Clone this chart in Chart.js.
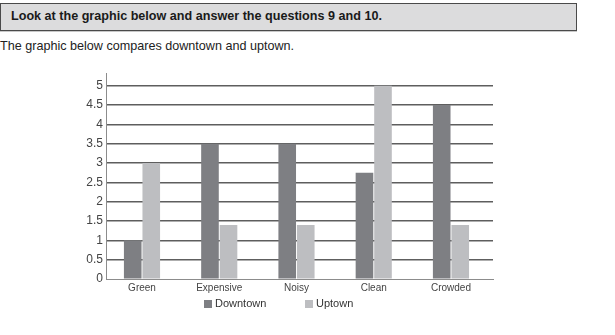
<!DOCTYPE html>
<html>
<head>
<meta charset="utf-8">
<script src="https://cdn.jsdelivr.net/npm/chart.js@4"></script>
<style>
  html, body { margin:0; padding:0; width:615px; height:335px; overflow:hidden; background:#fff; font-family:"Liberation Sans", Arial, sans-serif; }
  #hdr { position:absolute; left:0; top:3px; width:575px; height:26px; background:#dcdcdd; border:1.5px solid #4a4a4a; box-shadow:0 1px 0 #c8c8c8; }
  #hdr span { position:absolute; left:10px; top:5px; font-weight:bold; font-size:12.6px; color:#1a1a1a; }
  #sub { position:absolute; left:0; top:39px; font-size:12.6px; color:#222; }
  #wrap { position:absolute; left:0; top:60px; width:615px; height:240px; }
  #legend { position:absolute; top:296px; left:0; width:615px; height:14px; font-size:11px; color:#333; }
  .li { position:absolute; top:0; }
  .sw { position:absolute; top:4px; width:8px; height:8px; }
</style>
</head>
<body>
<div id="hdr"><span>Look at the graphic below and answer the questions 9 and 10.</span></div>
<div id="sub">The graphic below compares downtown and uptown.</div>
<div id="wrap"><canvas id="c"></canvas></div>
<div id="legend">
  <div class="sw" style="left:204px;background:#7e7f83"></div><div class="li" style="left:215px;top:1px">Downtown</div>
  <div class="sw" style="left:305px;background:#bdbec1"></div><div class="li" style="left:316px;top:1px">Uptown</div>
</div>
<script>
const categories = ["Green", "Expensive", "Noisy", "Clean", "Crowded"];
const downtown = [1, 3.5, 3.5, 2.75, 4.5];
const uptown = [3, 1.4, 1.4, 5, 1.4];
const yTickValues = [0, 0.5, 1, 1.5, 2, 2.5, 3, 3.5, 4, 4.5, 5];
const seriesNames = ["Downtown", "Uptown"];

const toPoints = (arr) => arr.map((v, i) => ({ x: i, y: v }));

new Chart(document.getElementById('c'), {
  type: 'bar',
  data: {
    datasets: [
      { label: seriesNames[0], data: toPoints(downtown), backgroundColor: '#7e7f83', borderWidth: 0 },
      { label: seriesNames[1], data: toPoints(uptown), backgroundColor: '#bdbec1', borderWidth: 0 }
    ]
  },
  options: {
    responsive: true,
    maintainAspectRatio: false,
    animation: false,
    layout: { padding: { left: 0, right: 122, top: 13, bottom: 0 } },
    datasets: { bar: { categoryPercentage: 0.48, barPercentage: 0.95 } },
    plugins: { legend: { display: false }, tooltip: { enabled: false } },
    scales: {
      x: {
        type: 'linear',
        min: -0.466,
        max: 4.544,
        offset: false,
        afterBuildTicks: (s) => { s.ticks = categories.map((c, i) => ({ value: i })); },
        grid: { display: false, drawTicks: false },
        border: { display: true, color: '#8c8c8c', width: 1 },
        ticks: { color: '#444', font: { family: 'Liberation Sans', size: 10 }, padding: 3, maxRotation: 0, autoSkip: false,
                 callback: (v) => categories[v] },
        afterFit: (s) => { s.height = 21; }
      },
      y: {
        min: 0,
        max: 5.33,
        afterBuildTicks: (s) => { s.ticks = yTickValues.map(v => ({ value: v })); },
        grid: {
          drawTicks: false,
          color: (ctx) => ctx.tick && ctx.tick.value === 0 ? '#8c8c8c' : '#5e5e5e',
          lineWidth: (ctx) => ctx.tick && ctx.tick.value === 0 ? 1 : 1.5
        },
        border: { display: true, color: '#8c8c8c', width: 1 },
        ticks: { color: '#444', font: { family: 'Liberation Sans', size: 12 }, padding: 3, callback: (v) => String(v) },
        afterFit: (s) => { s.width = 106; }
      }
    }
  }
});
</script>
</body>
</html>
